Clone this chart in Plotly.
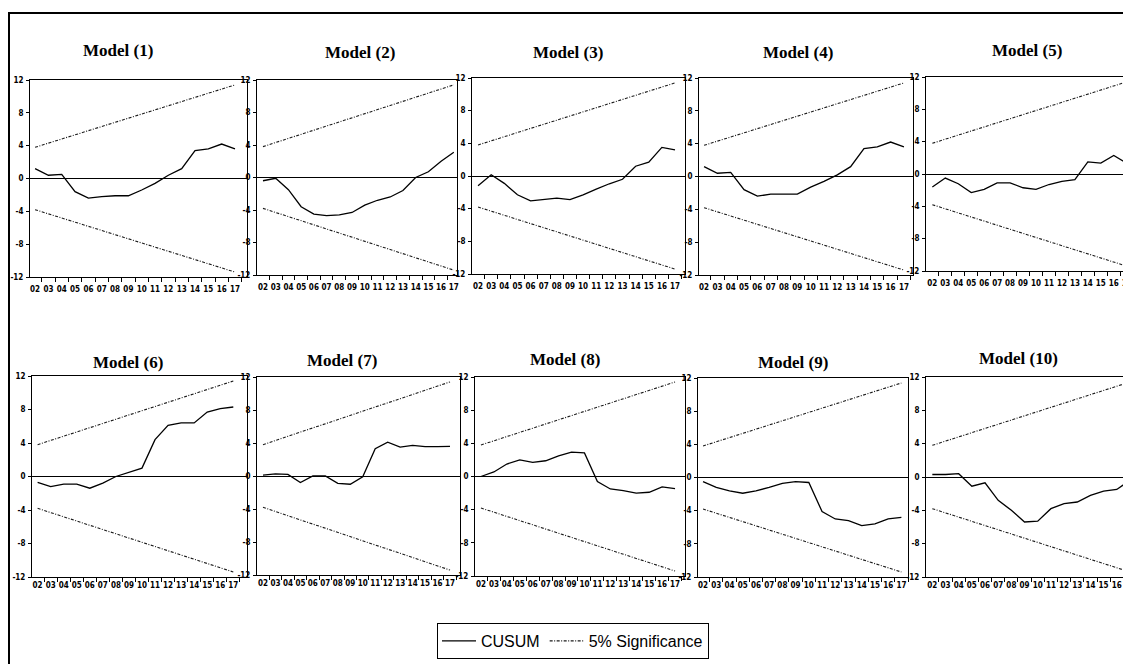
import plotly.graph_objects as go

# ---------------- data ----------------
years = list(range(2, 18))                      # 2002 .. 2017
year_labels = [f"{y:02d}" for y in years]
y_ticks = [-12, -8, -4, 0, 4, 8, 12]

titles = ["Model (1)", "Model (2)", "Model (3)", "Model (4)", "Model (5)",
          "Model (6)", "Model (7)", "Model (8)", "Model (9)", "Model (10)"]

m1 = [1.2, 0.4, 0.5, -1.6, -2.4, -2.2, -2.1, -2.1, -1.4, -0.6, 0.4, 1.2, 3.4, 3.6, 4.2, 3.6]
m2 = [-0.4, -0.1, -1.5, -3.6, -4.5, -4.7, -4.6, -4.3, -3.4, -2.8, -2.4, -1.6, 0.0, 0.7, 2.0, 3.1]
m3 = [-1.2, 0.15, -0.9, -2.3, -3.05, -2.9, -2.7, -2.9, -2.3, -1.6, -0.95, -0.4, 1.2, 1.7, 3.5, 3.2]
m4 = [1.2, 0.4, 0.5, -1.6, -2.4, -2.15, -2.15, -2.15, -1.3, -0.6, 0.2, 1.2, 3.4, 3.6, 4.2, 3.6]
m5 = [-1.6, -0.5, -1.2, -2.3, -1.9, -1.1, -1.1, -1.7, -1.9, -1.3, -0.9, -0.7, 1.5, 1.35, 2.3, 1.35]
m6 = [-0.7, -1.2, -0.9, -0.9, -1.4, -0.8, 0.0, 0.5, 1.0, 4.4, 6.1, 6.4, 6.4, 7.7, 8.1, 8.3]
m7 = [0.1, 0.25, 0.2, -0.8, 0.0, 0.0, -0.9, -1.0, -0.1, 3.3, 4.1, 3.5, 3.7, 3.55, 3.55, 3.6]
m8 = [0.0, 0.55, 1.5, 2.0, 1.7, 1.9, 2.5, 2.95, 2.85, -0.6, -1.5, -1.7, -2.0, -1.9, -1.25, -1.45]
m9 = [-0.5, -1.2, -1.6, -1.9, -1.6, -1.2, -0.7, -0.5, -0.6, -4.1, -5.0, -5.2, -5.8, -5.6, -5.0, -4.8]
m10 = [0.3, 0.3, 0.4, -1.1, -0.7, -2.8, -4.0, -5.4, -5.3, -3.8, -3.2, -3.0, -2.2, -1.7, -1.5, -0.4]

sig_years = [2, 17]
sig_upper = [3.8, 11.4]
sig_lower = [-3.8, -11.4]

models = [m1, m2, m3, m4, m5, m6, m7, m8, m9, m10]

# ---------------- layout geometry (page pixels) ----------------
W, H = 1131, 664
OFF = 8  # the page body margin shifts the figure by 8px


def px(xp):
    return (xp - OFF) / W


def py(yp):
    return 1 - (yp - OFF) / H


# left, right, top, bottom (page px), x-range min, x-range max, label standoff
geom = [
    (30, 247, 80, 277, 1.62, 17.90, 4),
    (257, 457, 80, 275, 1.53, 17.25, 4),
    (472, 685, 78, 274, 1.54, 17.76, 4),
    (699, 913, 78, 275, 1.62, 17.68, 4),
    (926, 1131, 77, 271, 1.51, 17.33, 4),
    (32, 247, 376, 577, 1.57, 18.05, 0),
    (257, 460, 377, 575, 1.52, 17.80, 0),
    (475, 685, 377, 576, 1.54, 17.77, 0),
    (698, 908, 378, 577, 1.62, 17.50, 0),
    (926, 1131, 377, 577, 1.52, 17.08, 0),
]
title_pos = [(118, 50), (360, 53), (568, 52), (798, 53), (1027, 50),
             (128, 362), (342, 360), (565, 359), (793, 362), (1018, 358)]
cut_right = {4, 9}

tick_font = dict(family="Liberation Sans Narrow, Arial Narrow, DejaVu Sans Condensed, Liberation Sans, sans-serif",
                 size=8, color="black", weight="bold")
title_font = dict(family="Liberation Serif, Times New Roman, serif", size=17, color="black", weight="bold")
sig_line = dict(color="#1a1a1a", width=1.1, dash="3px,1.5px,1px,1.5px")

fig = go.Figure()
layout = dict(
    width=W, height=H,
    margin=dict(l=0, r=0, t=0, b=0),
    paper_bgcolor="white", plot_bgcolor="white",
    showlegend=True,
)
annotations = []

for i, (vals, (l, r, t, b, xmin, xmax, stand)) in enumerate(zip(models, geom)):
    n = "" if i == 0 else str(i + 1)
    xa, ya = "x" + n, "y" + n
    fig.add_trace(go.Scatter(x=years, y=vals, mode="lines", xaxis=xa, yaxis=ya,
                             line=dict(color="black", width=1.3),
                             name="CUSUM", showlegend=(i == 0), legendgroup="c"))
    fig.add_trace(go.Scatter(x=sig_years, y=sig_upper, mode="lines", xaxis=xa, yaxis=ya,
                             line=sig_line, name="5% Significance", showlegend=(i == 0), legendgroup="s"))
    fig.add_trace(go.Scatter(x=sig_years, y=sig_lower, mode="lines", xaxis=xa, yaxis=ya,
                             line=sig_line, name="5% Significance", showlegend=False, legendgroup="s"))
    layout["xaxis" + n] = dict(
        domain=[px(l), px(r)], range=[xmin, xmax], anchor=ya,
        tickmode="array", tickvals=years, ticktext=year_labels, ticks="",
        ticklabelstandoff=stand,
        minor=dict(tickmode="array", tickvals=[y - 0.5 for y in years] + [years[-1] + 0.5],
                   ticks="outside", ticklen=4, tickcolor="black", tickwidth=1),
        showline=True, linecolor="black", linewidth=1, mirror=True,
        showgrid=False, zeroline=False, tickfont=tick_font, automargin=False, fixedrange=True,
    )
    layout["yaxis" + n] = dict(
        domain=[py(b), py(t)], range=[-12, 12], anchor=xa,
        tickmode="array", tickvals=y_ticks, ticktext=[str(v) for v in y_ticks],
        ticks="outside", ticklen=3, tickcolor="black", tickwidth=1,
        showline=True, linecolor="black", linewidth=1, mirror=(i not in cut_right),
        showgrid=False, zeroline=True, zerolinecolor="black", zerolinewidth=1.2,
        tickfont=tick_font, automargin=False, fixedrange=True, ticklabelstandoff=1,
    )
    tx, ty = title_pos[i]
    annotations.append(dict(text=titles[i], x=px(tx), y=py(ty), xref="paper", yref="paper",
                            xanchor="center", yanchor="middle", showarrow=False, font=title_font))

layout["annotations"] = annotations
layout["shapes"] = [dict(type="rect", xref="paper", yref="paper",
                         x0=px(9), x1=1.05, y0=-0.05, y1=py(13),
                         line=dict(color="black", width=2), fillcolor="rgba(0,0,0,0)", layer="above")]
layout["legend"] = dict(orientation="h", x=px(573), xanchor="center", y=py(659), yanchor="bottom",
                        bordercolor="black", borderwidth=1, bgcolor="white",
                        font=dict(family="Liberation Sans, Arial, sans-serif", size=16, color="black"),
                        itemwidth=34, tracegroupgap=0)

fig.update_layout(**layout)
fig.write_html("out.html")
